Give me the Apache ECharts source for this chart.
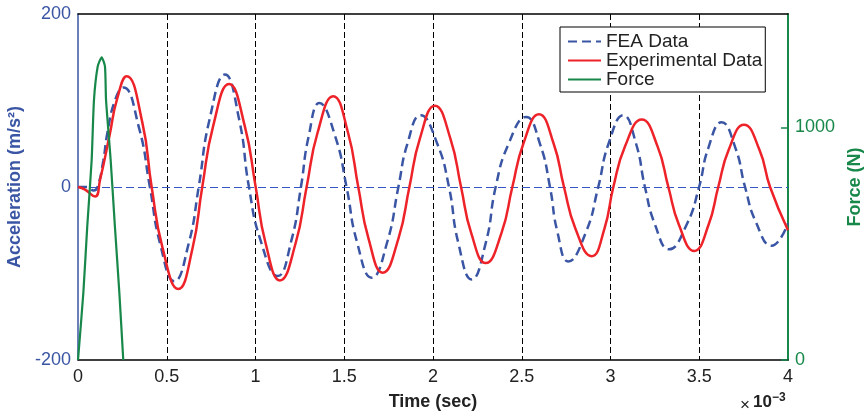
<!DOCTYPE html>
<html>
<head>
<meta charset="utf-8">
<script src="https://cdn.jsdelivr.net/npm/echarts@6/dist/echarts.min.js"></script>
<style>
  html, body { margin: 0; padding: 0; background: #ffffff; }
  #chart { width: 867px; height: 417px; }
</style>
</head>
<body>
<div id="chart"></div>
<script>
// Time in units of 10^-3 s, acceleration in m/s^2, force in N
const seriesNames = ['FEA Data', 'Experimental Data', 'Force'];

const feaData = [
  [0, 0], [0.05, 0], [0.088, -4], [0.11, 0], [0.143, 31], [0.165, 62], [0.208, 100], [0.255, 115],
  [0.343, 69], [0.405, 0], [0.462, -65], [0.543, -109], [0.624, -65], [0.68, 0],
  [0.741, 78], [0.828, 130], [0.908, 78], [0.963, 0], [1.029, -62], [1.125, -103],
  [1.202, -62], [1.256, 0], [1.299, 58], [1.36, 97], [1.45, 58], [1.513, 0],
  [1.571, -63], [1.655, -105], [1.743, -63], [1.805, 0], [1.856, 50], [1.93, 83],
  [2.024, 50], [2.09, 0], [2.142, -64], [2.218, -107], [2.298, -64], [2.353, 0],
  [2.424, 49], [2.525, 81], [2.604, 49], [2.659, 0], [2.701, -52], [2.762, -86],
  [2.862, -52], [2.931, 0], [2.989, 50], [3.072, 83], [3.144, 50], [3.194, 0],
  [3.25, -43], [3.33, -72], [3.43, -43], [3.499, 0], [3.551, 45], [3.626, 75],
  [3.704, 45], [3.758, 0], [3.82, -41], [3.908, -68], [4.0, -42]
];

const experimentalData = [
  [0, 0], [0.04, -3], [0.096, -11], [0.124, 8], [0.18, 62], [0.218, 100], [0.274, 128],
  [0.362, 75], [0.415, 0], [0.477, -71], [0.565, -118], [0.645, -71], [0.70, 0],
  [0.762, 71], [0.851, 119], [0.939, 71], [1.001, 0], [1.057, -65], [1.138, -108],
  [1.226, -65], [1.288, 0], [1.35, 63], [1.438, 105], [1.521, 63], [1.579, 0],
  [1.636, -59], [1.717, -99], [1.806, -59], [1.867, 0], [1.926, 56], [2.011, 94],
  [2.098, 56], [2.158, 0], [2.215, -53], [2.297, -88], [2.386, -53], [2.447, 0],
  [2.509, 50], [2.597, 84], [2.68, 50], [2.738, 0], [2.802, -48], [2.894, -80],
  [2.966, -48], [3.016, 0], [3.082, 47], [3.176, 78], [3.265, 47], [3.326, 0],
  [3.386, -44], [3.472, -74], [3.552, -44], [3.607, 0], [3.666, 43], [3.752, 72],
  [3.839, 43], [3.899, 0], [4.0, -50]
];

const forceData = [
  [0, 0], [0.03, 288], [0.052, 573], [0.077, 860], [0.09, 1118], [0.111, 1262], [0.1335, 1302],
  [0.152, 1262], [0.158, 1118], [0.184, 860], [0.208, 573], [0.233, 288], [0.255, 0]
];

const timeTicks = [0, 0.5, 1, 1.5, 2, 2.5, 3, 3.5, 4];
const accelTicks = [-200, 0, 200];
const forceTicks = [0, 1000];
const zeroLevel = 0;

const BLUE = '#3a55a4';
const RED = '#ee2229';
const GREEN = '#17884a';
const FONT = '"Liberation Sans", Arial, Helvetica, sans-serif';

const chart = echarts.init(document.getElementById('chart'), null, { renderer: 'canvas' });

chart.setOption({
  animation: false,
  backgroundColor: '#ffffff',
  textStyle: { fontFamily: FONT },
  grid: { left: 78, right: 79, top: 14, bottom: 57, containLabel: false, outerBoundsMode: 'none' },
  legend: {
    orient: 'vertical',
    left: 560,
    top: 27,
    data: seriesNames,
    itemWidth: 33,
    itemHeight: 17,
    itemGap: 0,
    itemTextGap: 6,
    padding: [5, 3, 3, 7],
    backgroundColor: '#ffffff',
    borderColor: '#000000',
    borderWidth: 1,
    borderRadius: 0,
    selectedMode: false,
    itemStyle: { opacity: 0 },
    textStyle: { fontFamily: FONT, fontSize: 19, color: '#222222', lineHeight: 17 }
  },
  xAxis: [
    {
      type: 'value',
      position: 'bottom',
      min: timeTicks[0],
      max: timeTicks[timeTicks.length - 1],
      interval: timeTicks[1] - timeTicks[0],
      name: 'Time (sec)',
      nameLocation: 'middle',
      nameGap: 33,
      nameTextStyle: { fontFamily: FONT, fontSize: 18, fontWeight: 'bold', color: '#222222' },
      axisLine: { show: true, onZero: false, lineStyle: { color: '#000000', width: 1.5 } },
      axisTick: { show: false },
      axisLabel: { margin: 8, fontFamily: FONT, fontSize: 18, color: '#222222' },
      splitLine: {
        show: true,
        showMinLine: false,
        showMaxLine: false,
        lineStyle: { color: '#000000', width: 1, type: [6, 3] }
      }
    },
    {
      type: 'value',
      position: 'top',
      min: timeTicks[0],
      max: timeTicks[timeTicks.length - 1],
      axisLine: { show: true, onZero: false, lineStyle: { color: '#000000', width: 1.5 } },
      axisTick: { show: false },
      axisLabel: { show: false },
      splitLine: { show: false }
    }
  ],
  yAxis: [
    {
      type: 'value',
      position: 'left',
      min: accelTicks[0],
      max: accelTicks[accelTicks.length - 1],
      interval: accelTicks[1] - accelTicks[0],
      name: 'Acceleration (m/s²)',
      nameLocation: 'middle',
      nameRotate: 90,
      nameGap: 53,
      nameTextStyle: { fontFamily: FONT, fontSize: 18, fontWeight: 'bold', color: BLUE },
      axisLine: { show: true, onZero: false, lineStyle: { color: BLUE, width: 1.5 } },
      axisTick: { show: false },
      axisLabel: { margin: 7, fontFamily: FONT, fontSize: 18, color: BLUE },
      splitLine: { show: false }
    },
    {
      type: 'value',
      position: 'right',
      min: 0,
      max: 1488,
      name: 'Force (N)',
      nameLocation: 'middle',
      nameRotate: 90,
      nameGap: 57,
      nameTextStyle: { fontFamily: FONT, fontSize: 18, fontWeight: 'bold', color: GREEN },
      axisLine: { show: true, onZero: false, lineStyle: { color: GREEN, width: 2 } },
      axisTick: {
        show: true,
        inside: true,
        length: 7,
        customValues: forceTicks,
        lineStyle: { color: GREEN, width: 1.5 }
      },
      axisLabel: {
        margin: 7,
        fontFamily: FONT,
        fontSize: 18,
        color: GREEN,
        customValues: forceTicks,
        formatter: (v) => String(v)
      },
      splitLine: { show: false }
    }
  ],
  series: [
    {
      name: seriesNames[0],
      type: 'line',
      xAxisIndex: 0,
      yAxisIndex: 0,
      data: feaData,
      smooth: 0.5,
      symbol: 'none',
      color: BLUE,
      lineStyle: { color: BLUE, width: 2.5, type: [9, 5] },
      z: 3,
      markLine: {
        silent: true,
        symbol: 'none',
        label: { show: false },
        lineStyle: { color: '#3456c4', width: 1, type: [8, 4], opacity: 1 },
        emphasis: { disabled: true },
        data: [{ yAxis: zeroLevel }],
        z: 1
      }
    },
    {
      name: seriesNames[1],
      type: 'line',
      xAxisIndex: 0,
      yAxisIndex: 0,
      data: experimentalData,
      smooth: 0.5,
      symbol: 'none',
      color: RED,
      lineStyle: { color: RED, width: 2.5 },
      z: 4
    },
    {
      name: seriesNames[2],
      type: 'line',
      xAxisIndex: 0,
      yAxisIndex: 1,
      data: forceData,
      smooth: 0.2,
      symbol: 'none',
      color: GREEN,
      lineStyle: { color: GREEN, width: 2.2 },
      z: 5
    }
  ],
  graphic: [
    {
      type: 'text',
      left: 740,
      top: 397,
      style: { text: '×', fontFamily: FONT, fontSize: 17, fill: '#222222' }
    },
    {
      type: 'text',
      left: 753,
      top: 394,
      style: { text: '10', fontFamily: FONT, fontSize: 17, fontWeight: 'bold', fill: '#222222' }
    },
    {
      type: 'text',
      left: 772,
      top: 392,
      style: { text: '−3', fontFamily: FONT, fontSize: 12, fontWeight: 'bold', fill: '#222222' }
    }
  ]
});
</script>
</body>
</html>
